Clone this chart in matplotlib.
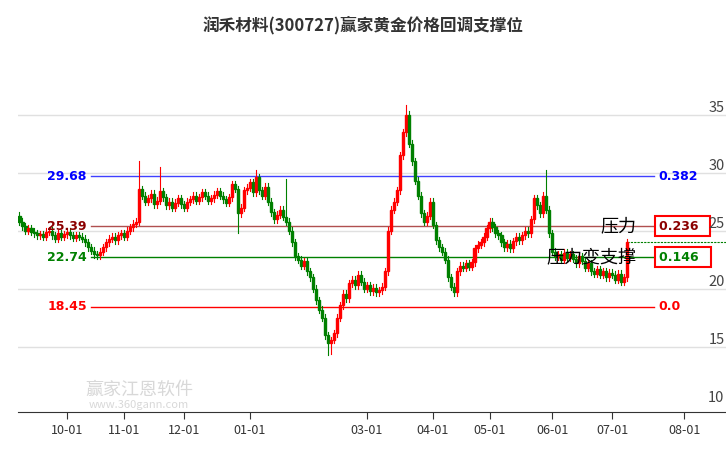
import numpy as np
import matplotlib.pyplot as plt
from matplotlib.patches import Rectangle

plt.rcParams['font.family'] = ['Noto Sans CJK SC', 'DejaVu Sans']

closes = [25.8,25.4,25.0,25.2,24.9,24.8,24.6,24.7,24.5,24.9,25.0,24.6,24.3,24.8,24.5,24.7,24.9,24.6,24.4,24.6,24.5,
          24.3,24.0,23.6,23.3,23.0,22.9,23.2,23.6,24.0,
          24.3,24.5,24.2,24.6,24.8,24.5,25.0,25.3,25.6,
          25.8,28.6,
          28.0,27.5,27.8,28.2,27.3,27.6,28.4,27.9,27.2,27.5,27.0,27.4,27.8,27.3,27.0,27.5,27.7,28.0,27.6,27.9,
          28.3,28.0,27.6,27.8,28.1,28.4,28.0,27.7,27.4,27.9,
          29.0,28.6,26.5,27.0,28.5,28.7,29.2,28.3,29.6,28.5,
          28.0,28.8,27.5,26.6,26.0,26.4,26.8,26.2,25.8,25.0,
          24.0,22.8,22.5,22.0,22.4,21.5,21.0,20.0,19.0,18.2,
          17.5,16.0,15.3,15.6,16.2,17.5,18.6,
          19.6,19.2,20.5,20.8,20.3,21.2,20.6,20.0,
          20.3,19.8,20.1,19.7,19.9,20.2,21.5,
          25.0,26.8,27.5,28.5,31.5,33.5,35.0,32.5,
          31.0,29.3,28.0,26.5,25.8,26.3,27.5,25.5,24.2,23.6,
          23.2,22.5,21.0,20.2,19.7,21.5,22.0,
          21.8,22.2,21.9,22.3,23.5,23.8,
          24.0,24.5,25.2,25.8,25.3,24.8,24.6,
          24.0,23.6,23.9,23.5,24.1,24.5,24.2,
          24.6,25.0,24.8,26.0,27.8,27.2,26.5,28.0,26.8,
          24.8,23.2,22.8,23.0,22.5,23.1,22.7,
          23.0,22.6,22.2,22.8,22.4,21.8,22.2,21.5,21.3,21.7,21.2,21.5,21.0,21.4,
          21.2,20.8,21.3,20.6,21.0,24.0]
first_open = 26.3
spike_highs = {40: 31.0, 47: 30.5, 89: 29.5, 129: 35.8, 176: 30.2, 79: 30.2}
spike_lows = {103: 14.3, 104: 14.4, 145: 19.4, 73: 24.8}

tick_pos = [16, 35, 55, 77, 116, 138, 157, 178, 198, 222]
tick_labels = ['10-01', '11-01', '12-01', '01-01', '03-01', '04-01', '05-01', '06-01', '07-01', '08-01']
levels = [29.68, 25.39, 22.74, 18.45]
level_ratio = ['0.382', '0.236', '0.146', '0.0']
level_colors = ['#0000ff', '#8b0000', '#008000', '#ff0000']
line_colors = ['#4040ff', '#b05050', '#008000', '#ff0000']

fig = plt.figure(figsize=(7.26, 4.5), dpi=100)
ax = fig.add_axes([18 / 726, 38 / 450, 708 / 726, 374 / 450])
xmax = 236
ax.set_xlim(-0.5, xmax)
ax.set_ylim(9.4, 41.6)

for v in [15, 20, 25, 30, 35]:
    ax.axhline(v, color='#e0e0e0', lw=1, zorder=0)

opens = [first_open] + closes[:-1]
for i, (o, c) in enumerate(zip(opens, closes)):
    col = '#ff0000' if c >= o else '#008000'
    hi = spike_highs.get(i, max(o, c) + 0.3)
    lo = spike_lows.get(i, min(o, c) - 0.3)
    ax.plot([i, i], [lo, hi], color=col, lw=0.8, zorder=2)
    h = max(abs(c - o), 0.12)
    ax.add_patch(Rectangle((i - 0.35, min(o, c)), 0.7, h, color=col, zorder=3))

x0, x1 = 24, 212
for lv, r, tc, lc in zip(levels, level_ratio, level_colors, line_colors):
    ax.plot([x0, x1], [lv, lv], color=lc, lw=1, zorder=1)
    ax.text(x0 - 1.5, lv, f'{lv:.2f}', color=tc, fontsize=9, fontweight='bold',
            ha='right', va='center', family='DejaVu Sans')
    if r in ('0.382', '0.0'):
        ax.text(213.5, lv, r, color=tc, fontsize=9, fontweight='bold', va='center', family='DejaVu Sans')

ax.plot([203, xmax], [24.0, 24.0], color='#008000', lw=0.8, ls=(0, (2, 1)), zorder=1)
box = dict(facecolor='white', edgecolor='red', lw=1.5, pad=2.5)
ax.text(213.5, 25.39, '0.236  ', color='#8b0000', fontsize=9, fontweight='bold', va='center',
        family='DejaVu Sans', bbox=box)
ax.text(213.5, 22.74, '0.146  ', color='#008000', fontsize=9, fontweight='bold', va='center',
        family='DejaVu Sans', bbox=box)
ax.text(206, 25.39, '压力', fontsize=13, ha='right', va='center', color='black')
ax.text(206, 22.74, '压力变支撑', fontsize=13, ha='right', va='center', color='black')

for v in [10, 15, 20, 25, 30, 35]:
    ax.text(xmax - 0.5, v, str(v), fontsize=10.5, color='#444444', ha='right', va='bottom')

ax.text(40, 10.5, '赢家江恩软件', fontsize=13, color='#d8d8d8', ha='center', va='bottom', zorder=0)
ax.text(40, 9.6, 'www.360gann.com', fontsize=8, color='#d8d8d8', ha='center', va='bottom', zorder=0)

for s in ['top', 'right', 'left']:
    ax.spines[s].set_visible(False)
ax.spines['bottom'].set_color('#333333')
ax.set_yticks([])
ax.set_xticks(tick_pos)
ax.set_xticklabels(tick_labels, fontsize=9, color='#333333')
ax.tick_params(axis='x', length=5, color='#333333')

fig.text(0.5, 0.945, '润禾材料(300727)赢家黄金价格回调支撑位', ha='center', va='center',
         fontsize=12, fontweight='bold', color='#333333')

fig.savefig('out.png', dpi=100)
